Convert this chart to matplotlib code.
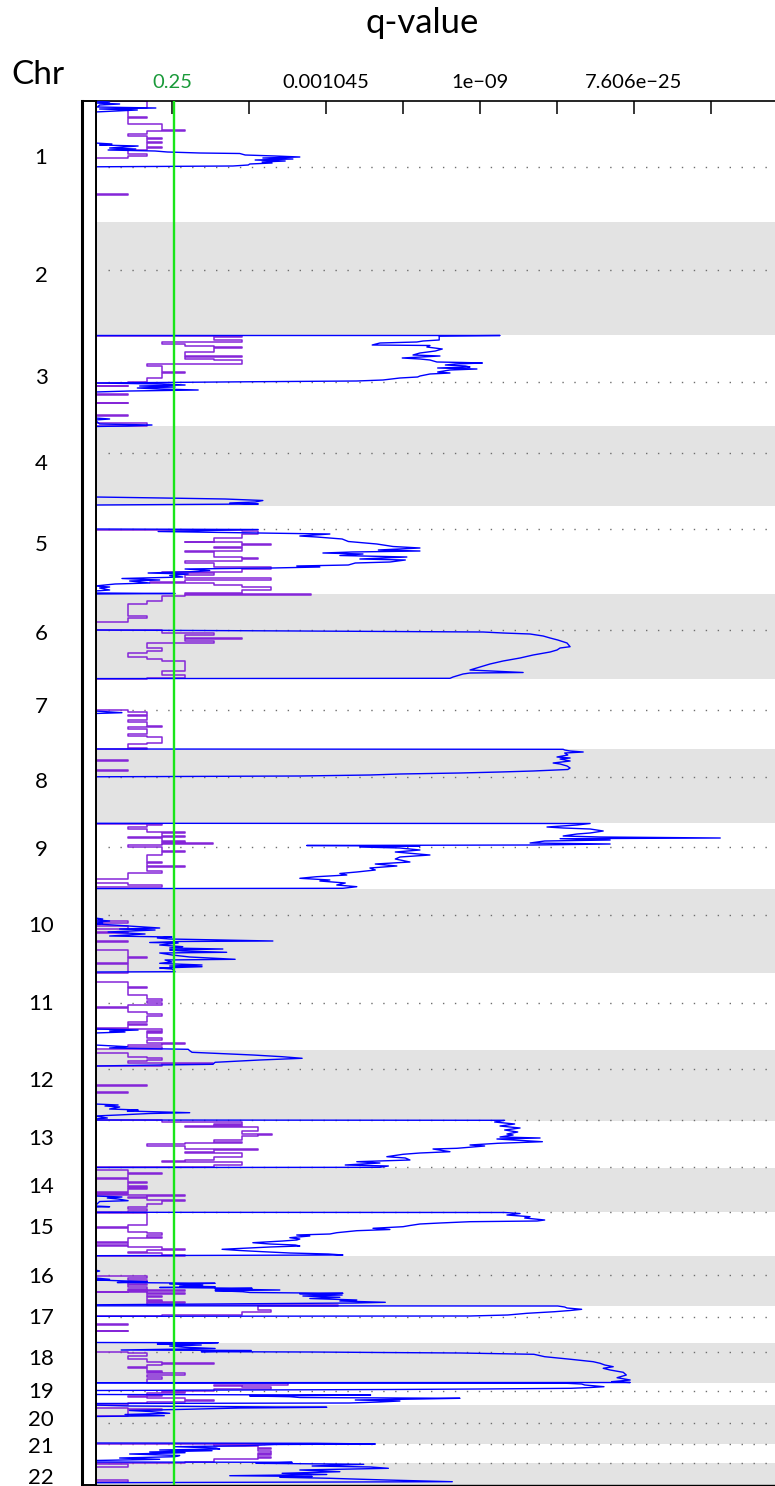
import numpy as np
import matplotlib
matplotlib.use('Agg')
import matplotlib.pyplot as plt
from matplotlib import transforms

plt.rcParams['font.family'] = ['Lato', 'DejaVu Sans']

# ---------------------------------------------------------------------------
# Genome layout (position index, top = 0)
# ---------------------------------------------------------------------------
chrom_names = [str(i) for i in range(1, 23)]
chrom_bounds = [0, 121, 234, 325, 405, 493, 578, 648, 722, 788, 872, 949,
                1020, 1067, 1111, 1155, 1205, 1242, 1282, 1304, 1343, 1362, 1384]
centromeres = [66, 169, 281, 352, 428, 529, 609, 676, 746, 814, 902, 968,
               1019, 1066, 1111, 1174, 1216, 1251, 1290, 1322, 1343, 1362]
label_pos = [57, 175, 277, 363, 444, 533, 606, 681, 749, 825, 903, 980,
             1038, 1086, 1127, 1176, 1217, 1258, 1291, 1319, 1346, 1377]

# score axis: ticks and their q-value labels
tick_pos = [1, 2, 3, 4, 5, 6, 7, 8]
tick_labels = ['0.25', '', '0.001045', '', '1e\u221209', '', '7.606e\u221225', '']
q_threshold = 1.026

# ---------------------------------------------------------------------------
# Blue q-value curves (position, score)
# ---------------------------------------------------------------------------
blue_1 = [(0, 0), (1, 0.19), (2, 0), (3, 0.32), (4, 0.06), (6, 0.03), (7, 0.79), (8, 0.06),
          (9, 0.55), (11, 0), (42, 0), (43, 0.22), (44, 0.06), (45, 0.56), (47, 0.19),
          (48, 0.53), (49, 0.17), (50, 0.78), (51, 0.94), (52, 1.36), (52.5, 1.88),
          (54, 1.95), (55, 2.34), (56, 2.66), (57, 2.18), (58, 2.57), (59, 2.08),
          (60, 2.47), (61, 2.17), (62, 2.30), (63, 2.01), (64, 1.99), (65, 1.79), (65.8, 0)]
blue_3 = [(234.5, 0), (234.5, 5.26), (235, 4.47), (239, 4.47), (240, 4.26), (241, 4.18),
          (242, 3.70), (244, 3.60), (244.5, 4.35), (246, 4.31), (248, 4.51), (250, 4.42),
          (252, 4.22), (254, 4.13), (255, 4.48), (257, 3.99), (258, 4.22), (259, 4.35),
          (261, 4.44), (261.5, 4.78), (262, 5.03), (263, 4.68), (264, 4.55), (265, 4.81),
          (266, 4.87), (267, 4.45), (268, 4.96), (269, 4.61), (271, 4.45), (272, 4.61),
          (273, 4.35), (275, 4.22), (276, 4.19), (277, 3.96), (279, 3.74), (280, 3.40),
          (280.7, 2.10), (281.5, 0.84), (282, 0), (283, 0.87), (284, 1.17), (285, 0.58),
          (286, 1.04), (287, 0.55), (288, 0.84), (289, 1.34), (290, 0.45), (291, 0),
          (317, 0), (318, 0.19), (319, 0), (323, 0.06), (324, 0.74), (325, 0.42), (325.5, 0)]
blue_4 = [(396, 0), (397, 0.88), (398, 1.69), (399.5, 2.18), (401, 2.08), (402, 1.75),
          (403, 2.12), (404, 0)]
blue_5 = [(428, 0), (428.5, 2.12), (430.5, 0.82), (432, 2.12), (433, 3.05), (435, 2.66),
          (436, 2.88), (438, 3.21), (440.5, 3.29), (443, 3.66), (445.5, 3.87), (447, 4.22),
          (449, 3.68), (450, 4.22), (451, 3.34), (452, 2.96), (453, 3.48), (454.5, 3.18),
          (456, 4.05), (458, 3.44), (459, 4.03), (461, 3.83), (462, 3.38), (464, 3.29),
          (465, 2.62), (466, 2.92), (467, 2.30), (468, 1.17), (469.5, 1.49), (470.5, 1.34),
          (472, 0.69), (473, 1.21), (474.5, 0.97), (476, 1.14), (477.5, 0.35), (479, 0.84),
          (480, 0.45), (482, 0.71), (483, 0.26), (485, 0), (486, 0.19), (487, 0.06),
          (489, 0.19), (490, 0), (492, 0), (492.5, 1.04), (493, 0)]
blue_6 = [(529, 0), (530, 2.66), (531, 5.04), (532, 5.30), (533, 5.65), (535, 5.82),
          (537, 5.91), (539, 6.01), (542, 6.13), (545.7, 6.17), (547, 6.04), (549, 6.00),
          (551, 5.91), (554, 5.69), (557, 5.52), (560, 5.30), (563, 5.13), (566, 5.00),
          (569, 4.87), (571.5, 5.56), (572, 4.87), (573, 4.78), (576, 4.65), (577.3, 4.61),
          (577.6, 0)]
blue_7 = [(610, 0), (611.7, 0.35), (612.5, 0)]
blue_8 = [(648, 0), (648.3, 6.08), (649, 6.10), (650, 6.17), (651, 6.34), (652, 6.10),
          (654, 6.14), (656, 6.00), (657, 6.17), (658, 6.04), (660, 6.17), (662, 5.95),
          (663, 6.04), (665, 6.13), (667, 6.17), (668.5, 6.14), (670, 5.69), (671, 5.26),
          (672, 4.74), (673, 3.96), (674, 3.57), (675, 2.66), (675.8, 0)]
blue_9 = [(722.3, 0), (722.5, 6.43), (724, 6.26), (726, 5.87), (727, 6.08), (728, 6.43),
          (730, 6.60), (732, 6.43), (733, 6.26), (735, 6.08), (736, 6.56), (737, 8.12),
          (737.7, 6.04), (739, 6.69), (740, 5.84), (742, 5.65), (743, 6.69), (744, 5.69),
          (744.5, 2.75), (745, 4.22), (746, 3.44), (747, 3.96), (749, 4.22), (751, 3.90),
          (754, 4.35), (756, 3.96), (758, 3.90), (761, 4.09), (763, 3.64), (765, 3.92),
          (767, 3.57), (769, 3.64), (771, 3.40), (772.5, 3.18), (774, 3.27), (775.7, 2.88),
          (777.3, 2.66), (779, 3.05), (780, 2.92), (782, 3.25), (784, 3.14), (785.7, 3.40),
          (787.3, 3.22), (787.6, 0)]
blue_10 = [(817, 0), (818, 0.10), (819, 0.03), (820, 0.19), (821, 0.03), (822, 0.10),
           (823, 0.03), (827, 0.84), (828, 0.32), (829, 0.78), (831, 0.17), (833, 0.65),
           (835, 0.19), (836, 1.00), (837, 0.81), (838, 0.97), (840, 2.31), (840.5, 1.10),
           (841.5, 0.71), (842, 1.08), (844, 0.84), (845.7, 1.14), (847, 0.97), (848, 1.66),
           (849, 0.97), (850, 1.14), (851.3, 1.71), (852, 0.84), (854, 1.00), (856, 1.23),
           (858.3, 1.82), (859, 0.91), (861, 1.00), (862.3, 0.84), (863, 1.04), (864, 1.39),
           (865, 0.97), (865.7, 1.39), (867, 0.84), (868, 1.00), (870.7, 1.04), (871, 0)]
blue_11 = [(928, 0), (929, 0.56), (930, 0.19), (931, 0.39), (932, 0)]
blue_12 = [(944, 0), (945.7, 0.42), (947, 0.19), (948.3, 1.21), (949.7, 1.23), (951.3, 1.26),
           (954, 2.05), (955.7, 2.43), (957.3, 2.69), (959, 2.14), (961.3, 1.56),
           (963.3, 1.53), (964, 0.84), (965, 0), (1003, 0), (1004, 0.30), (1005, 0.13),
           (1006, 0.32), (1008, 0.19), (1009, 0.56), (1010, 0.42), (1011.7, 1.23),
           (1012.5, 0.71), (1014, 0.30), (1015, 0), (1017, 0.16), (1018, 0)]
blue_13 = [(1019, 0), (1019.3, 5.32), (1021, 5.19), (1023, 5.45), (1025, 5.26), (1027, 5.52),
           (1029, 5.32), (1031, 5.49), (1033, 5.35), (1034, 5.43), (1036, 5.26), (1037, 5.78),
           (1038, 5.22), (1040.7, 5.81), (1042.3, 5.23), (1044, 4.87), (1045, 5.06),
           (1047.3, 4.70), (1048, 4.39), (1050.7, 4.61), (1052, 4.22), (1053.3, 4.00),
           (1055.7, 3.79), (1057, 4.03), (1059, 4.09), (1060.7, 3.40), (1062, 3.70),
           (1064, 3.25), (1065, 3.81), (1066.3, 3.70), (1066.5, 0)]
blue_14 = [(1095, 0), (1096, 0.35), (1097, 0.16), (1098, 0.30), (1099.7, 0.43), (1100.5, 0.06),
           (1105, 0), (1105.7, 0.19), (1106, 0)]
blue_15 = [(1111.3, 0), (1111.5, 5.32), (1112.5, 5.52), (1114, 5.35), (1115.7, 5.65),
           (1117, 5.58), (1118, 5.71), (1119, 5.84), (1120, 5.74), (1120.7, 4.87),
           (1122, 4.48), (1123, 4.22), (1124.5, 4.09), (1125.7, 4.00), (1127.3, 3.61),
           (1128.5, 3.83), (1129.7, 3.40), (1131.7, 3.14), (1133, 3.05), (1134, 2.62),
           (1135, 2.79), (1136.7, 2.53), (1138, 2.66), (1139, 2.62), (1140, 2.44),
           (1141.7, 2.05), (1143, 2.27), (1144, 2.60), (1145, 2.66), (1146, 2.27),
           (1148.3, 1.65), (1149.5, 1.88), (1150.7, 2.18), (1152, 2.53), (1153, 3.03),
           (1154, 3.22), (1154.7, 0)]
blue_16 = [(1169, 0), (1170, 0.06), (1171, 0), (1177, 0), (1178.3, 0.19), (1179, 0.03),
           (1180.7, 0.68), (1181.5, 0.29), (1182.3, 1.56), (1183, 0.97), (1184, 1.40),
           (1185, 1.10), (1185.7, 1.56), (1186.5, 0.84), (1187.3, 2.04), (1188, 1.56),
           (1189, 2.40), (1189.7, 1.56), (1190.7, 1.92), (1191.5, 2.01), (1192.3, 3.22),
           (1193, 2.66), (1194, 3.21), (1195, 2.70), (1196.3, 3.18), (1197.5, 2.79),
           (1199, 3.40), (1200, 3.18), (1201.3, 3.77), (1202, 3.38), (1203.8, 0)]
blue_17 = [(1204.8, 0), (1205, 6.01), (1206, 6.10), (1207, 6.13), (1208.3, 6.32),
           (1209.5, 6.17), (1210.7, 5.97), (1212.3, 5.61), (1214, 5.36), (1215, 4.87),
           (1215.3, 0)]
blue_18 = [(1241.5, 0), (1241.7, 1.60), (1242.5, 1.23), (1243, 0.81), (1244, 1.38),
           (1245, 0.97), (1246.3, 1.17), (1247.5, 1.56), (1249, 0.34), (1249.5, 2.03),
           (1250.7, 1.38), (1251, 2.82), (1251.5, 3.70), (1252, 4.74), (1253.3, 5.70),
           (1255.7, 5.84), (1258.3, 6.18), (1260.7, 6.47), (1262.3, 6.56), (1264, 6.62),
           (1265.7, 6.73), (1267.3, 6.60), (1269, 6.69), (1271.3, 6.86), (1274, 6.90),
           (1276.7, 6.78), (1279, 6.95), (1280.7, 6.71), (1281.5, 6.95), (1281.7, 0)]
blue_19 = [(1282, 0), (1282.3, 6.13), (1283, 6.32), (1284, 6.36), (1285.7, 6.61),
           (1286.5, 6.43), (1287.3, 6.18), (1288, 5.00), (1288.5, 3.83), (1289.5, 0),
           (1293.5, 0), (1294, 3.58), (1295, 2.01), (1295.7, 2.53), (1296.5, 2.66),
           (1297.3, 4.74), (1298, 4.22), (1299, 3.38), (1300, 3.96), (1301, 3.69),
           (1302, 3.30), (1302.5, 0)]
blue_20 = [(1304, 0), (1305, 0.45), (1306.3, 3.01), (1307, 1.88), (1308.3, 1.18),
           (1309.5, 0.45), (1310.5, 0.71), (1312.3, 0.97), (1313.5, 0.39), (1314.7, 0.90),
           (1315.5, 0)]
blue_21 = [(1342, 0), (1342.3, 2.87), (1343, 3.64), (1343.5, 2.34), (1344.7, 1.95),
           (1345.7, 1.04), (1347, 1.57), (1348, 1.62), (1349, 0.84), (1349.7, 1.52),
           (1351, 0.71), (1351.7, 1.17), (1353, 0.45), (1354.5, 1.10), (1355.7, 1.04),
           (1357, 0.32), (1358.3, 0.84), (1359.5, 0)]
blue_22 = [(1361, 0), (1361.3, 2.56), (1362.3, 2.09), (1363.3, 3.49), (1365, 2.82),
           (1366, 3.58), (1367.3, 3.81), (1368, 3.35), (1369, 2.66), (1370.7, 3.18),
           (1372.3, 2.43), (1373.5, 3.01), (1374.7, 1.75), (1375.5, 2.82), (1376.3, 2.40),
           (1377.3, 3.05), (1379, 3.78), (1380.7, 4.64), (1381.7, 0)]

blue_curves = [blue_1, blue_3, blue_4, blue_5, blue_6, blue_7, blue_8, blue_9, blue_10,
               blue_11, blue_12, blue_13, blue_14, blue_15, blue_16, blue_17, blue_18,
               blue_19, blue_20, blue_21, blue_22]

# ---------------------------------------------------------------------------
# Purple step profiles (segment start, level held until next start)
# ---------------------------------------------------------------------------
purple_1 = [(0, 0.68), (7, 0.43), (16, 0.68), (17, 0.43), (23, 0.87), (28.5, 1.17),
            (30, 0.68), (33, 0.43), (35, 0.68), (37, 0.87), (38, 0.68), (41, 0.87),
            (42, 0.68), (46, 0.87), (47, 0.68), (49, 0.43), (53, 0.68), (55, 0.43),
            (57, 0), (93, 0.43), (94, 0)]
purple_3 = [(234.7, 1.91), (236, 1.55), (239, 1.91), (241, 0.87), (243, 1.17), (245, 1.55),
            (246, 1.91), (247, 1.55), (251, 1.17), (254.5, 1.91), (255.5, 1.17), (258, 1.55),
            (259, 1.91), (263, 0.68), (265, 0.87), (271, 1.17), (272, 0.87), (277, 0.68),
            (281, 0.43), (282, 0), (284.5, 0.43), (285.2, 0), (293, 0.43), (293.7, 0),
            (301.5, 0.43), (302.2, 0), (313.8, 0.43), (314.5, 0), (321.5, 0.68), (325, 0)]
purple_5 = [(428.5, 1.91), (430, 2.12), (433, 1.91), (437, 1.55), (440.5, 1.17), (441, 1.91),
            (443, 2.29), (444, 1.91), (445.5, 1.55), (447, 1.91), (449.5, 1.17), (451, 1.55),
            (455.5, 1.91), (457, 2.12), (458, 1.91), (460, 1.17), (462, 1.55), (466, 2.29),
            (467.5, 1.91), (470.5, 0.87), (472, 1.55), (474, 1.17), (477, 2.29), (479, 1.17),
            (480.5, 0.71), (482, 1.55), (484, 1.91), (486, 2.29), (489, 1.91), (491.5, 1.17),
            (493, 2.81), (493.7, 1.17), (494.5, 0.87), (500, 0.68), (503, 0.43),
            (515, 0.68), (516.5, 0.43), (521, 0)]
purple_6 = [(529, 0.87), (532, 1.55), (534, 1.17), (537, 1.91), (538, 1.17), (540, 1.55),
            (541.5, 0.68), (547, 0.87), (550, 0.68), (552, 0.43), (556, 0.68), (558, 0.87),
            (560, 1.17), (570, 0.87), (574, 1.17), (577, 0.68), (578, 0)]
purple_7 = [(609, 0.43), (610.5, 0.68), (614, 0.43), (615, 0.68), (619, 0.43), (621, 0.68),
            (624.5, 0.87), (626, 0.43), (628, 0.68), (633, 0.43), (635, 0.68), (636, 0.87),
            (641.5, 0.68), (643, 0.43), (647, 0.68), (647.7, 0)]
purple_8 = [(659, 0.43), (659.7, 0), (669, 0.43), (669.7, 0)]
purple_9 = [(722.5, 0.87), (724, 0.68), (726, 0.43), (728, 0.68), (730.5, 1.17), (732, 0.87),
            (735, 1.17), (736.3, 0.43), (737, 0.87), (739.7, 1.17), (740.5, 0.87),
            (741.7, 1.53), (742.5, 0.87), (744, 0.43), (746.3, 0.87), (749.7, 1.17),
            (750.5, 0.87), (754, 0.68), (761, 0.87), (762, 0.68), (765, 1.17), (766, 0.68),
            (769.7, 0.87), (772.3, 0.43), (778.3, 0), (782.3, 0.43), (784, 0.87), (786, 0)]
purple_10 = [(820, 0.43), (821.5, 0), (825, 0.43), (827.5, 0), (830.5, 0.43), (831.5, 0),
             (839.5, 0.43), (840.5, 0), (849, 0.43), (856, 0.68), (857, 0.43), (862, 0),
             (862.5, 0.43), (871.5, 0)]
purple_11 = [(881, 0.43), (885.5, 0.68), (887, 0.43), (894, 0.68), (898, 0.87), (900, 0.68),
             (902.3, 0.87), (903.5, 0.43), (906, 0), (907, 0.43), (910.7, 0.68), (913, 0.87),
             (915, 0.68), (920.7, 0.43), (923, 0.68), (924, 0.43), (927, 0), (928.3, 0.87),
             (929.5, 0.68), (930.7, 0.87), (931.5, 0.68), (937.3, 0.87), (939, 0.68),
             (941.7, 1.17), (942.5, 0.87), (944, 0.43), (945.7, 0.87), (948, 0)]
purple_12 = [(952, 0.43), (956, 0.68), (957, 0.87), (959, 0.68), (960, 0.43), (962, 1.53),
             (963, 0.87), (965, 0), (984, 0.68), (985, 0), (990.5, 0.43), (991.5, 0)]
purple_13 = [(1019.3, 0.87), (1020.7, 1.91), (1023, 1.55), (1024, 1.91), (1025, 1.17),
             (1026, 2.12), (1029.7, 1.91), (1033, 2.30), (1034, 2.12), (1035, 1.91),
             (1039, 1.55), (1040.5, 1.91), (1041.5, 1.17), (1043.3, 0.68), (1045, 1.17),
             (1048.3, 2.12), (1049, 1.55), (1050.7, 1.17), (1052, 1.91), (1056, 1.55),
             (1059, 1.17), (1060, 0.87), (1061, 1.91), (1064, 1.55), (1066.3, 0)]
purple_14 = [(1069, 0.43), (1071.7, 0.68), (1072.3, 0.87), (1073, 0.43), (1077.3, 0),
             (1077.8, 0.43), (1080.7, 0.68), (1082.3, 0.43), (1084.5, 0.68), (1085.5, 0.43),
             (1087.3, 0.68), (1088, 0.43), (1090.7, 0), (1091.5, 0.43), (1093, 0),
             (1093.5, 0.43), (1094, 1.17), (1095, 0.68), (1096.3, 0.43), (1097, 0.68),
             (1099, 1.17), (1100, 0.87), (1103.3, 0.68), (1105.7, 0.43), (1108.3, 0.68),
             (1109.7, 0.43), (1111, 0)]
purple_15 = [(1111.5, 0.68), (1124, 0.43), (1126, 0), (1127, 0.43), (1130.7, 0.68),
             (1132, 0.87), (1134, 0.68), (1135.7, 0.87), (1137, 0.43), (1140.7, 0),
             (1142, 0.43), (1144, 0), (1145, 0.43), (1146.3, 0.87), (1148.3, 1.17),
             (1149, 0.68), (1150.7, 0.43), (1151.5, 0.87), (1154, 1.17), (1154.7, 0)]
purple_16 = [(1174.7, 0.68), (1177, 0.43), (1179, 0.68), (1180.7, 0.43), (1183, 0.68),
             (1184, 0.43), (1186, 0.68), (1187.5, 0.43), (1189, 1.17), (1190, 0.43),
             (1190.7, 0), (1191, 0.68), (1192.3, 1.17), (1193, 0.68), (1195, 0.87),
             (1196, 0.68), (1199, 0.87), (1200, 0.68), (1200.7, 1.17), (1201.5, 0.68),
             (1204, 3.16), (1204.7, 2.12), (1209, 2.29), (1210.7, 1.91), (1214, 0.87),
             (1215, 0), (1223.3, 0.43), (1224, 0), (1229.7, 0.43), (1230.4, 0)]
purple_18 = [(1250.7, 0.43), (1252.3, 0.68), (1255, 0.43), (1258.3, 0.68), (1260.7, 0.87),
             (1262.3, 1.55), (1263, 0.87), (1264, 0.68), (1265.7, 0.43), (1267.3, 0.68),
             (1269.7, 0.87), (1271, 0.68), (1272.3, 1.17), (1273.5, 0.68), (1276.3, 0.87),
             (1277.5, 0.68), (1282.3, 2.51), (1283.5, 1.55), (1285, 1.91), (1286.3, 2.29),
             (1287.5, 1.91), (1288.3, 1.55), (1289.7, 0.87), (1291, 1.17), (1291.7, 0.68),
             (1294, 0.87), (1295, 0.43), (1296.3, 0.68), (1297.3, 1.17), (1299, 1.55),
             (1300, 1.17), (1300.7, 0.68), (1302.3, 0.43), (1304, 0)]
purple_20 = [(1307, 0.43), (1308.3, 0.87), (1309, 0.43), (1315, 0)]
purple_21 = [(1342.5, 2.84), (1343, 1.55), (1345, 2.12), (1346.5, 2.29), (1348, 2.12),
             (1350, 2.29), (1351.5, 2.12), (1353, 2.29), (1354, 2.12), (1355.7, 2.29),
             (1356.5, 2.12), (1358.3, 1.55), (1360.7, 1.17), (1361.7, 0)]
purple_22 = [(1363, 0.43), (1366, 0), (1379, 0.43), (1381, 0)]

purple_steps = [purple_1, purple_3, purple_5, purple_6, purple_7, purple_8, purple_9,
                purple_10, purple_11, purple_12, purple_13, purple_14, purple_15,
                purple_16, purple_18, purple_20, purple_21, purple_22]

# ---------------------------------------------------------------------------
# Figure
# ---------------------------------------------------------------------------
W, H = 775, 1486
fig = plt.figure(figsize=(W / 100, H / 100), dpi=100)
fig.patch.set_facecolor('white')

ax = fig.add_axes([96 / W, 1 / H, 1 - 96 / W, 1384 / H])
ax.set_xlim(0.013, 8.831)
ax.set_ylim(1384, 0)

# alternating chromosome bands
for i in range(len(chrom_names)):
    if i % 2 == 1:
        ax.axhspan(chrom_bounds[i], chrom_bounds[i + 1], color='#e3e3e3', lw=0, zorder=0)

# centromere dotted lines
ax.hlines(centromeres, 0.17, 8.831, colors='#6e6e6e', linewidth=1.0,
          linestyles=(0, (1, 7.6)), zorder=1)

for steps in purple_steps:
    pos = [p for p, _ in steps]
    lev = [l for _, l in steps]
    ax.plot([0] + lev, [pos[0]] + pos, drawstyle='steps-pre', color='#8526d8',
            lw=1.1, zorder=2)

for curve in blue_curves:
    ax.plot([s for _, s in curve], [p for p, _ in curve], color='#0000ff', lw=1.0, zorder=3)

ax.axvline(q_threshold, color='#19e619', lw=1.7, zorder=4)

# axes styling
ax.spines['right'].set_visible(False)
ax.spines['top'].set_linewidth(1.2)
ax.spines['left'].set_linewidth(1.3)
ax.spines['bottom'].set_linewidth(1.0)
ax.set_yticks([])
ax.xaxis.tick_top()
ax.set_xticks(tick_pos)
ax.set_xticklabels(tick_labels)
ax.tick_params(axis='x', direction='in', length=9.5, width=1.1, pad=7, labelsize=14.5)
ax.get_xticklabels()[0].set_color('#1a9a3a')

# left chromosome strip
strip = fig.add_axes([82 / W, 1 / H, 14 / W, 1384 / H])
strip.set_xticks([])
strip.set_yticks([])
for sp in strip.spines.values():
    sp.set_linewidth(1.4)
strip.spines['left'].set_linewidth(2.2)

# chromosome labels
trans = transforms.blended_transform_factory(fig.transFigure, ax.transData)
for name, yp in zip(chrom_names, label_pos):
    ax.text(41 / W, yp, name, transform=trans, ha='center', va='center',
            fontsize=16, clip_on=False)

fig.text(38 / W, 1 - 75 / H, 'Chr', ha='center', va='center', fontsize=24)
fig.text(422 / W, 1 - 23 / H, 'q-value', ha='center', va='center', fontsize=25)

fig.savefig('out.png', dpi=100, facecolor='white')
